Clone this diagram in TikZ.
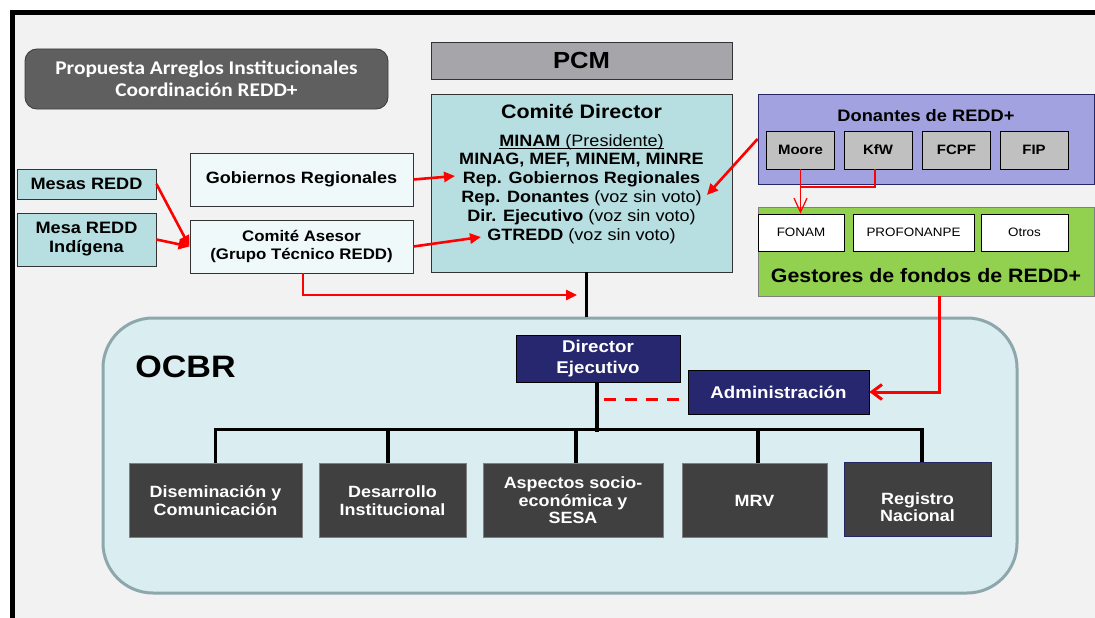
\documentclass[tikz,border=0pt]{standalone}
\usepackage{fontspec}
\setmainfont{Liberation Sans}[FakeStretch=1.1]
\newfontfamily\calfont{Carlito}[FakeStretch=1.1]
\usetikzlibrary{arrows.meta}
\definecolor{bgc}{HTML}{F2F2F2}
\definecolor{titlefill}{HTML}{5F5F5F}
\definecolor{titleline}{HTML}{3F3F3F}
\definecolor{pcmfill}{HTML}{A6A5AA}
\definecolor{tealc}{HTML}{B7DEE1}
\definecolor{lightc}{HTML}{F0F9FA}
\definecolor{lav}{HTML}{A3A2E0}
\definecolor{navyline}{HTML}{262666}
\definecolor{subgray}{HTML}{C0C0C0}
\definecolor{greenc}{HTML}{92D050}
\definecolor{gline}{HTML}{808080}
\definecolor{ocbrfill}{HTML}{DAEDF0}
\definecolor{ocbrline}{HTML}{8CA8AD}
\definecolor{navyc}{HTML}{27276F}
\definecolor{darkc}{HTML}{404040}
\definecolor{dline}{HTML}{7F7F7F}
\definecolor{redc}{HTML}{FF0000}
\definecolor{boxline}{HTML}{333333}
\newcommand\fsz[2]{\fontsize{#1}{#2}\selectfont}
\newcommand\myul[1]{\setbox0=\hbox{#1}\leavevmode\rlap{\rule[-2.5pt]{\wd0}{0.9pt}}\box0}
\begin{document}
\begin{tikzpicture}[x=1pt,y=-1pt,
  bx/.style={draw=boxline, line width=0.9pt, inner sep=0pt, align=center, text=black},
  txt/.style={inner sep=0pt, align=center},
  gbx/.style={bx, draw=black, fill=subgray, minimum width=68pt, minimum height=38pt, font=\bfseries\fsz{13.6}{16}},
  wbx/.style={bx, draw=black, fill=white, minimum height=37pt, font=\fsz{12.2}{14}},
  nbx/.style={bx, draw=black, fill=navyc, text=white, font=\bfseries\fsz{17}{21}},
  dbx/.style={bx, draw=dline, fill=darkc, text=white, minimum height=74pt, font=\bfseries\fsz{16.3}{17.5}},
  redarr/.style={draw=redc, line width=2.6pt, -{Triangle[length=11pt,width=10pt]}},
  thinarr/.style={draw=redc, line width=1.2pt, -{Straight Barb[length=14pt,width=13pt]}},
  thinline/.style={draw=redc, line width=1.2pt},
  admarr/.style={draw=redc, line width=3pt, -{Straight Barb[length=10pt,width=15pt]}},
  reddash/.style={draw=redc, line width=3pt, dash pattern=on 12pt off 9pt},
  org/.style={draw=black, line width=3.5pt},
  blk/.style={draw=black, line width=3pt}]
\useasboundingbox (0,0) rectangle (1095,618);
\fill[white] (0,0) rectangle (1095,618);
\fill[bgc] (12,12) rectangle (1095,618);
\draw[line width=5pt] (12.5,620) -- (12.5,12.5) -- (1097,12.5);

% title
\node[bx, draw=titleline, fill=titlefill, rounded corners=12pt, minimum width=363pt, minimum height=60pt, text=white, font=\calfont\bfseries\fsz{19.4}{22}] (title) at (206.5,79) {Propuesta Arreglos Institucionales\\Coordinación REDD+};

% PCM and Comite Director
\node[bx, fill=pcmfill, minimum width=301pt, minimum height=37pt, font=\bfseries\fsz{23.3}{26}] (pcm) at (581.5,60.5) {PCM};
\node[bx, fill=tealc, minimum width=301pt, minimum height=178pt] (cd) at (581.5,183) {};
\node[txt, anchor=north, font=\fsz{16.4}{18.8}] (cdtext) at (581.5,103.5) {{\fsz{19.5}{23}\bfseries Comité Director}\\[9.2pt]
\myul{\textbf{MINAM} (Presidente)}\\
\textbf{MINAG, MEF, MINEM, MINRE}\\
\textbf{Rep. Gobiernos Regionales}\\
\textbf{Rep. Donantes} (voz sin voto)\\
\textbf{Dir. Ejecutivo} (voz sin voto)\\
\textbf{GTREDD} (voz sin voto)};

% left boxes
\node[bx, fill=tealc, minimum width=139pt, minimum height=30pt, font=\bfseries\fsz{16.5}{19}] (mesas) at (86.5,184) {Mesas REDD};
\node[bx, fill=tealc, minimum width=139pt, minimum height=53pt, font=\bfseries\fsz{16.5}{19}] (indig) at (86.5,239.5) {Mesa REDD\\Indígena};
\node[bx, fill=lightc, minimum width=223pt, minimum height=53pt, font=\bfseries\fsz{16.4}{19}] (gob) at (301.5,179.5) {Gobiernos Regionales};
\node[bx, fill=lightc, minimum width=223pt, minimum height=53pt, font=\bfseries\fsz{15.3}{18}] (asesor) at (301.5,246.5) {Comité Asesor\\(Grupo Técnico REDD)};

% donantes
\node[bx, draw=navyline, fill=lav, minimum width=336pt, minimum height=90pt] (don) at (926,139) {};
\node[txt, font=\bfseries\fsz{16.6}{19}] (dontitle) at (926,116) {Donantes de REDD+};
\node[gbx] (moore) at (800.5,150) {Moore};
\node[gbx] (kfw) at (878,150) {KfW};
\node[gbx] (fcpf) at (956.5,150) {FCPF};
\node[gbx] (fip) at (1034,150) {FIP};

% gestores
\node[bx, draw=gline, fill=greenc, minimum width=336pt, minimum height=89pt] (ges) at (926,251.5) {};
\node[wbx, minimum width=86pt] (fonam) at (801,232.5) {FONAM};
\node[wbx, minimum width=121pt] (profo) at (913.5,232.5) {PROFONANPE};
\node[wbx, minimum width=87pt] (otros) at (1024.5,232.5) {Otros};
\node[txt, font=\bfseries\fsz{19.4}{22}] (gestitle) at (926,276) {Gestores de fondos de REDD+};

% OCBR
\node[draw=ocbrline, line width=3pt, fill=ocbrfill, rounded corners=50pt, minimum width=914pt, minimum height=275pt, inner sep=0pt] (ocbr) at (560,455.5) {};
\node[txt, font=\bfseries\fsz{31}{34}] (ocbrlabel) at (185.5,367) {OCBR};
\node[nbx, minimum width=164pt, minimum height=47pt] (dirE) at (598,358.5) {Director\\Ejecutivo};
\node[nbx, minimum width=181pt, minimum height=44pt] (admin) at (778.5,392) {Administración};

\node[dbx, minimum width=173pt] (dis) at (215.5,500.5) {Diseminación y\\Comunicación};
\node[dbx, minimum width=147pt] (des) at (392.5,500.5) {Desarrollo\\Institucional};
\node[dbx, minimum width=180pt] (asp) at (573,500.5) {Aspectos socio-\\económica y\\SESA};
\node[dbx, minimum width=145pt] (mrv) at (754.5,500.5) {MRV};
\node[dbx, draw=navyline, minimum width=147pt] (reg) at (917.5,499) {};
\node[txt, text=white, font=\bfseries\fsz{16.3}{17.5}] (reglbl) at (917.5,507) {Registro\\Nacional};

% connectors
\draw[blk] ([xshift=4.5pt]cd.south) -- ([xshift=4.5pt]cd.south |- ocbr.north);
\coordinate (bus) at (0,429.5);
\draw[org] (dis.north) -- (dis.north |- bus) -- ([xshift=4.5pt]reg.north |- bus) -- ([xshift=4.5pt]reg.north);
\draw[org] ([xshift=-4.5pt]des.north) -- ([xshift=-4.5pt]des.north |- bus);
\draw[org] ([xshift=3pt]asp.north) -- ([xshift=3pt]asp.north |- bus);
\draw[org] ([xshift=3.5pt]mrv.north) -- ([xshift=3.5pt]mrv.north |- bus);
\draw[org] ([xshift=-1pt]dirE.south) -- ([xshift=-1pt,yshift=-2pt]dirE.south |- bus);
\coordinate (dstart) at (604,399);
\draw[reddash] (dstart) -- (dstart -| admin.west);

\coordinate (t3) at (455,176);
\coordinate (t4) at (481,237);
\coordinate (t5) at (577,295);
\coordinate (t6) at (707,195);
\draw[redarr] (mesas.east) -- (asesor.west);
\draw[redarr] (indig.east) -- (asesor.west);
\draw[redarr] (gob.east) -- (t3);
\draw[redarr] (asesor.east) -- (t4);
\draw[redarr] ([xshift=1.5pt]asesor.south) |- (t5);
\draw[redarr] (don.west) -- (t6);

\coordinate (j) at (800.5,187);
\draw[thinarr] (moore.south) -- (moore.south |- fonam.north);
\draw[thinline] ([xshift=-3pt]kfw.south) |- (j);
\draw[admarr] ([xshift=13pt]ges.south) |- (admin.east);
\end{tikzpicture}
\end{document}
